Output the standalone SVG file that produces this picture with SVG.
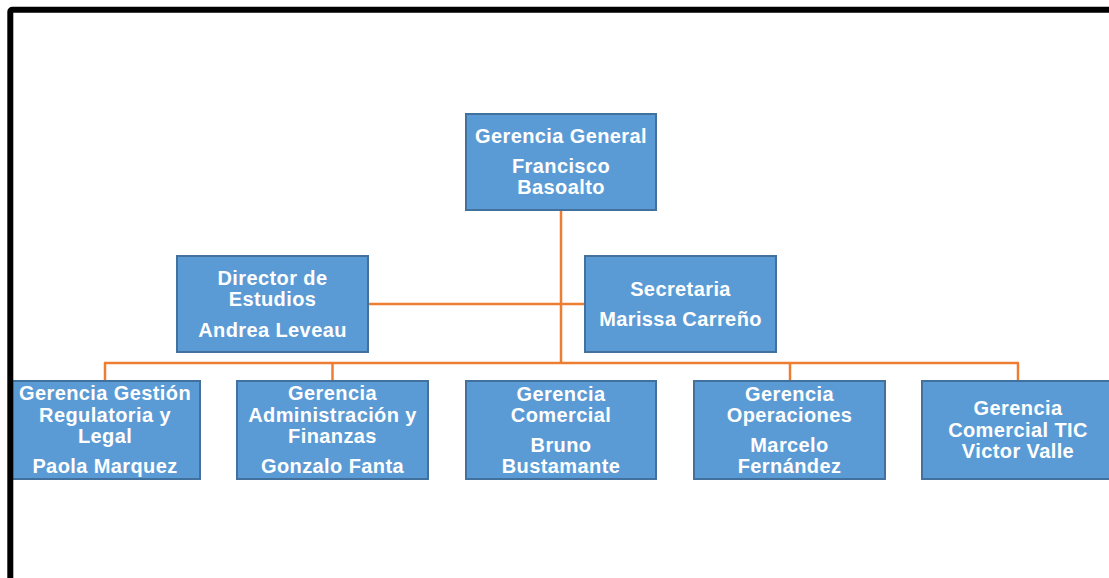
<svg xmlns="http://www.w3.org/2000/svg" width="1109" height="578" viewBox="0 0 1109 578">
<style>
.box{fill:#5B9BD5;stroke:#41719C;stroke-width:2}
.t{font-family:"Liberation Sans",Arial,sans-serif;font-weight:bold;font-size:20px;fill:#FFFFFF;text-anchor:middle;letter-spacing:0.4px}
.c{stroke:#ED7D31;stroke-width:2.5;fill:none}
</style>
<rect x="0" y="0" width="1109" height="578" fill="#FFFFFF"/>
<g id="connectors">
<line class="c" x1="561" y1="210" x2="561" y2="363"/>
<line class="c" x1="368" y1="304" x2="585" y2="304"/>
<line class="c" x1="104" y1="363" x2="1019" y2="363"/>
<line class="c" x1="105" y1="363" x2="105" y2="381"/>
<line class="c" x1="332.5" y1="363" x2="332.5" y2="381"/>
<line class="c" x1="790" y1="363" x2="790" y2="381"/>
<line class="c" x1="1018" y1="363" x2="1018" y2="381"/>
</g>
<g id="gerencia-general">
<rect class="box" x="466" y="114" width="190" height="96"/>
<text class="t" x="561" y="143">Gerencia General</text>
<text class="t" x="561" y="173">Francisco</text>
<text class="t" x="561" y="194">Basoalto</text>
</g>
<g id="director-estudios">
<rect class="box" x="177" y="256" width="191" height="96"/>
<text class="t" x="272.5" y="285">Director de</text>
<text class="t" x="272.5" y="306">Estudios</text>
<text class="t" x="272.5" y="337">Andrea Leveau</text>
</g>
<g id="secretaria">
<rect class="box" x="585" y="256" width="191" height="96"/>
<text class="t" x="680.5" y="296">Secretaria</text>
<text class="t" x="680.5" y="326">Marissa Carreño</text>
</g>
<g id="gerencia-regulatoria">
<rect class="box" x="10" y="381" width="190" height="98"/>
<text class="t" x="105" y="400">Gerencia Gestión</text>
<text class="t" x="105" y="421.5">Regulatoria y</text>
<text class="t" x="105" y="443">Legal</text>
<text class="t" x="105" y="473">Paola Marquez</text>
</g>
<g id="gerencia-administracion">
<rect class="box" x="237" y="381" width="191" height="98"/>
<text class="t" x="332.5" y="400">Gerencia</text>
<text class="t" x="332.5" y="421.5">Administración y</text>
<text class="t" x="332.5" y="443">Finanzas</text>
<text class="t" x="332.5" y="473">Gonzalo Fanta</text>
</g>
<g id="gerencia-comercial">
<rect class="box" x="466" y="381" width="190" height="98"/>
<text class="t" x="561" y="400.5">Gerencia</text>
<text class="t" x="561" y="421.5">Comercial</text>
<text class="t" x="561" y="451.5">Bruno</text>
<text class="t" x="561" y="472.5">Bustamante</text>
</g>
<g id="gerencia-operaciones">
<rect class="box" x="694" y="381" width="191" height="98"/>
<text class="t" x="789.5" y="400.5">Gerencia</text>
<text class="t" x="789.5" y="421.5">Operaciones</text>
<text class="t" x="789.5" y="451.5">Marcelo</text>
<text class="t" x="789.5" y="472.5">Fernández</text>
</g>
<g id="gerencia-comercial-tic">
<rect class="box" x="922" y="381" width="191" height="98"/>
<text class="t" x="1018" y="415">Gerencia</text>
<text class="t" x="1018" y="436.5">Comercial TIC</text>
<text class="t" x="1018" y="458">Victor Valle</text>
</g>
<rect x="10.3" y="9.7" width="1200" height="700" rx="2" fill="none" stroke="#000000" stroke-width="6"/>
</svg>
